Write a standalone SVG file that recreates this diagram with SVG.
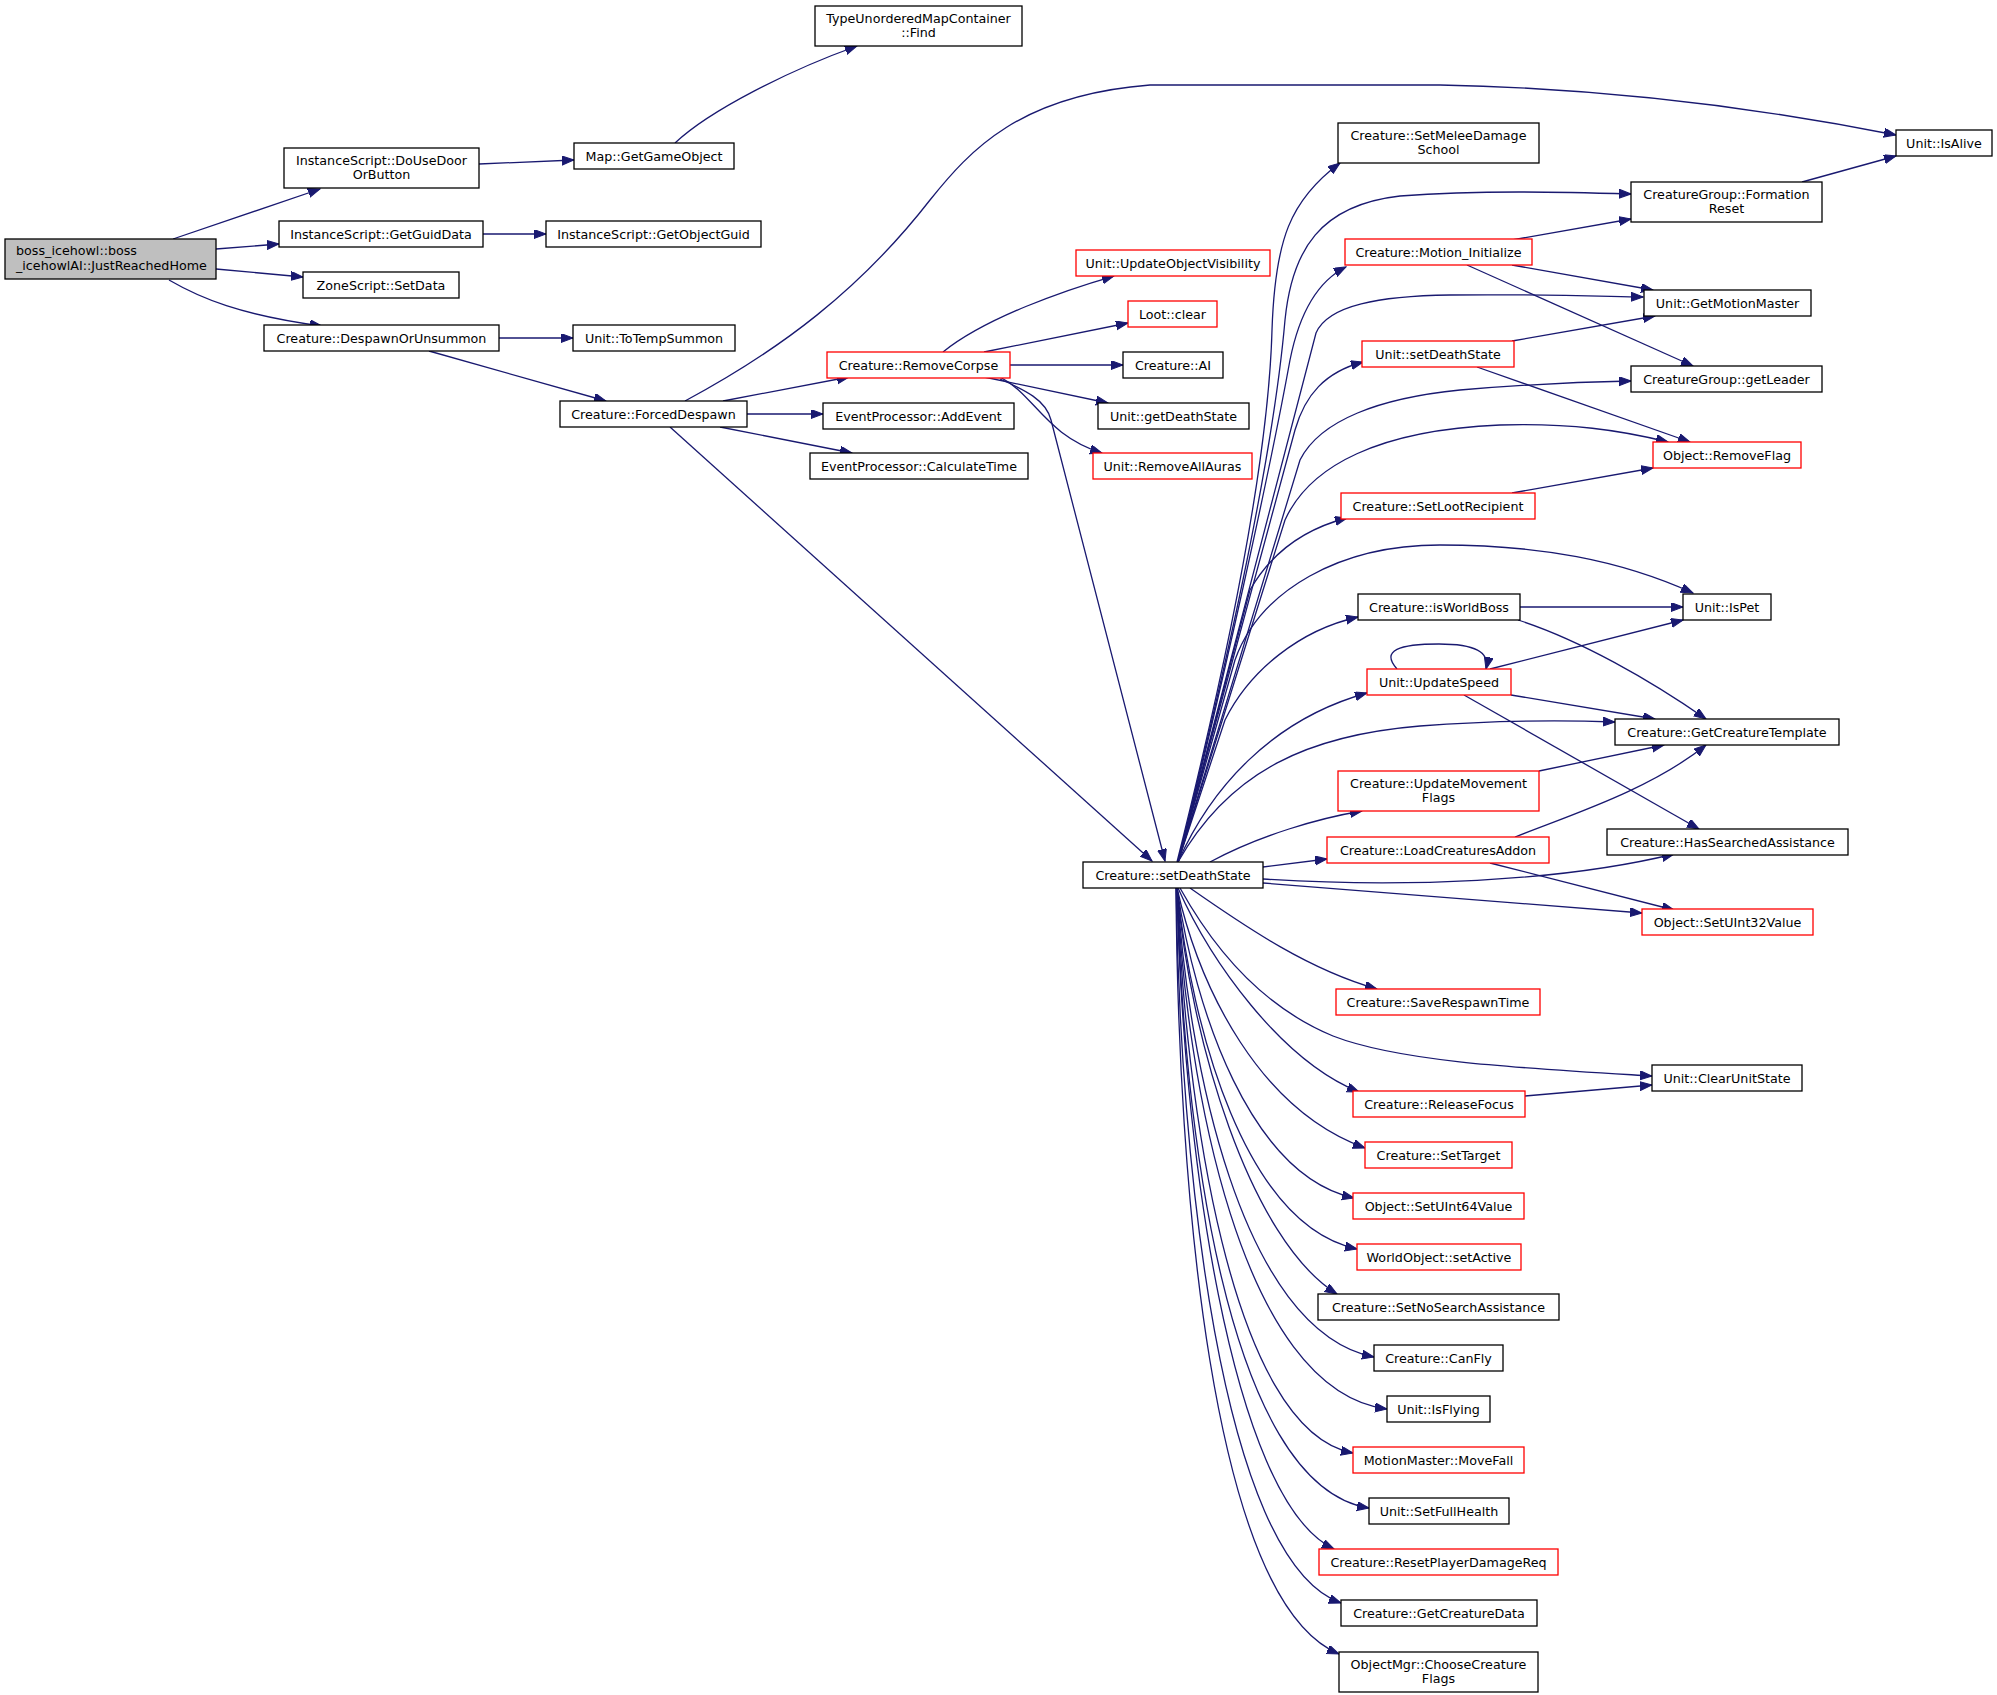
<svg xmlns="http://www.w3.org/2000/svg" width="1997" height="1695" viewBox="0 0 1997 1695">
<style>
.n rect{fill:#ffffff;stroke:#000000;stroke-width:1.3}
.n.r rect{stroke:#ff0000}
.n.g rect{fill:#bfbfbf}
.n text{font-family:"DejaVu Sans","Liberation Sans",sans-serif;font-size:12.7px;fill:#000000;text-anchor:middle}
#edges path{fill:none;stroke:#191970;stroke-width:1.3;marker-end:url(#ah)}
</style>
<defs>
<marker id="ah" markerUnits="userSpaceOnUse" markerWidth="13" markerHeight="10" refX="12" refY="4.5" orient="auto">
<path d="M0,0 L12,4.5 L0,9 z" fill="#191970" stroke="#191970" stroke-width="1"/>
</marker>
</defs>
<rect width="1997" height="1695" fill="#ffffff"/>
<g id="edges">
<path d="M173,239 L320,189"/>
<path d="M216,249 L279,244"/>
<path d="M216,269 L303,277"/>
<path d="M169,280 C200,298 240,315 322,326"/>
<path d="M479,164 L574,160"/>
<path d="M675,143 C710,110 790,70 857,46"/>
<path d="M483,234 L546,234"/>
<path d="M499,338 L573,338"/>
<path d="M429,351 L606,401"/>
<path d="M685,401 C780,350 860,290 930,200 C970,150 1020,95 1150,85 L1440,85 C1600,88 1760,108 1896,135"/>
<path d="M723,401 L849,377"/>
<path d="M747,414 L823,414"/>
<path d="M720,427 L852,453"/>
<path d="M670,427 L1152,861"/>
<path d="M943,352 C985,318 1065,290 1114,276"/>
<path d="M984,352 L1128,323"/>
<path d="M1010,365 L1123,365"/>
<path d="M984,377 L1108,403"/>
<path d="M1000,377 C1035,395 1045,435 1102,453"/>
<path d="M1000,379 C1025,390 1046,400 1051,420 L1165,861"/>
<path d="M1177,862 C1215,710 1268,480 1272,330 C1275,240 1290,200 1340,163"/>
<path d="M1178,862 C1220,690 1272,470 1285,320 C1292,250 1320,205 1400,196 C1480,190 1560,192 1631,194"/>
<path d="M1178,862 C1222,690 1270,470 1290,360 C1300,310 1320,280 1346,267"/>
<path d="M1178,862 L1316,333 C1328,305 1380,296 1450,295 C1530,294 1590,296 1643,297"/>
<path d="M1178,862 L1295,430 C1305,395 1325,372 1363,362"/>
<path d="M1178,862 L1300,460 C1320,420 1380,398 1460,390 C1530,384 1580,382 1631,381"/>
<path d="M1178,862 L1285,520 C1310,465 1380,430 1500,425 C1570,423 1620,430 1668,442"/>
<path d="M1178,862 L1250,590 C1270,555 1300,530 1347,518"/>
<path d="M1178,862 L1235,660 C1260,590 1340,545 1440,545 C1540,545 1620,560 1693,593"/>
<path d="M1178,862 L1225,720 C1250,670 1300,630 1358,617"/>
<path d="M1178,862 C1210,790 1270,720 1367,693"/>
<path d="M1178,862 C1230,770 1310,735 1420,726 C1500,720 1560,720 1615,722"/>
<path d="M1210,862 C1260,835 1320,818 1362,811"/>
<path d="M1263,867 L1327,859"/>
<path d="M1263,879 C1400,888 1560,882 1674,854"/>
<path d="M1263,883 L1642,913"/>
<path d="M1190,888 C1250,930 1310,970 1377,989"/>
<path d="M1180,888 C1220,960 1270,1010 1333,1036 C1400,1062 1520,1068 1652,1076"/>
<path d="M1178,888 C1210,960 1280,1060 1359,1092"/>
<path d="M1177,888 C1200,990 1260,1110 1365,1148"/>
<path d="M1177,888 C1195,1010 1250,1175 1354,1198"/>
<path d="M1177,888 C1192,1030 1245,1225 1357,1249"/>
<path d="M1177,888 C1190,1040 1250,1240 1337,1294"/>
<path d="M1177,888 C1188,1060 1240,1330 1374,1357"/>
<path d="M1177,888 C1186,1080 1240,1390 1387,1409"/>
<path d="M1177,888 C1185,1100 1230,1430 1353,1453"/>
<path d="M1177,888 C1183,1120 1225,1485 1369,1508"/>
<path d="M1177,888 C1182,1140 1230,1500 1334,1549"/>
<path d="M1176,888 C1180,1160 1220,1560 1341,1603"/>
<path d="M1176,888 C1178,1180 1210,1600 1339,1654"/>
<path d="M1802,182 L1896,156"/>
<path d="M1512,240 L1631,219"/>
<path d="M1512,265 L1653,290"/>
<path d="M1467,265 L1693,366"/>
<path d="M1512,341 L1655,316"/>
<path d="M1477,367 L1690,442"/>
<path d="M1512,493 L1653,468"/>
<path d="M1520,607 L1683,607"/>
<path d="M1518,620 C1580,640 1650,680 1706,719"/>
<path d="M1397,669 C1380,650 1400,644 1439,644 C1475,644 1490,652 1486,669"/>
<path d="M1490,669 L1683,620"/>
<path d="M1511,695 L1655,719"/>
<path d="M1464,695 L1699,829"/>
<path d="M1539,771 L1664,745"/>
<path d="M1515,837 C1570,815 1650,790 1706,745"/>
<path d="M1490,863 L1674,910"/>
<path d="M1525,1096 L1652,1085"/>
</g>
<g id="boss" class="n g"><rect x="5" y="239" width="211" height="40"/><text x="16" y="254.5" style="text-anchor:start">boss_icehowl::boss</text><text x="16" y="270" style="text-anchor:start">_icehowlAI::JustReachedHome</text></g>
<g id="find" class="n"><rect x="815" y="6" width="207" height="40"/><text x="918.5" y="22.5">TypeUnorderedMapContainer</text><text x="918.5" y="36.5">::Find</text></g>
<g id="douse" class="n"><rect x="284" y="148" width="195" height="40"/><text x="381.5" y="164.5">InstanceScript::DoUseDoor</text><text x="381.5" y="178.5">OrButton</text></g>
<g id="getgo" class="n"><rect x="574" y="143" width="160" height="26"/><text x="654" y="160.5">Map::GetGameObject</text></g>
<g id="getguid" class="n"><rect x="279" y="221" width="204" height="26"/><text x="381" y="238.5">InstanceScript::GetGuidData</text></g>
<g id="getobjguid" class="n"><rect x="546" y="221" width="215" height="26"/><text x="653.5" y="238.5">InstanceScript::GetObjectGuid</text></g>
<g id="setdata" class="n"><rect x="303" y="272" width="156" height="26"/><text x="381" y="289.5">ZoneScript::SetData</text></g>
<g id="despawn" class="n"><rect x="264" y="325" width="235" height="26"/><text x="381.5" y="342.5">Creature::DespawnOrUnsummon</text></g>
<g id="totemp" class="n"><rect x="573" y="325" width="162" height="26"/><text x="654" y="342.5">Unit::ToTempSummon</text></g>
<g id="forced" class="n"><rect x="560" y="401" width="187" height="26"/><text x="653.5" y="418.5">Creature::ForcedDespawn</text></g>
<g id="removecorpse" class="n r"><rect x="827" y="352" width="183" height="26"/><text x="918.5" y="369.5">Creature::RemoveCorpse</text></g>
<g id="addevent" class="n"><rect x="823" y="403" width="191" height="26"/><text x="918.5" y="420.5">EventProcessor::AddEvent</text></g>
<g id="calctime" class="n"><rect x="810" y="453" width="218" height="26"/><text x="919" y="470.5">EventProcessor::CalculateTime</text></g>
<g id="setmelee" class="n"><rect x="1338" y="123" width="201" height="40"/><text x="1438.5" y="139.5">Creature::SetMeleeDamage</text><text x="1438.5" y="153.5">School</text></g>
<g id="isalive" class="n"><rect x="1896" y="130" width="96" height="26"/><text x="1944" y="147.5">Unit::IsAlive</text></g>
<g id="formreset" class="n"><rect x="1631" y="182" width="191" height="40"/><text x="1726.5" y="198.5">CreatureGroup::Formation</text><text x="1726.5" y="212.5">Reset</text></g>
<g id="updobjvis" class="n r"><rect x="1076" y="250" width="194" height="26"/><text x="1173" y="267.5">Unit::UpdateObjectVisibility</text></g>
<g id="motioninit" class="n r"><rect x="1345" y="239" width="187" height="26"/><text x="1438.5" y="256.5">Creature::Motion_Initialize</text></g>
<g id="lootclear" class="n r"><rect x="1128" y="301" width="89" height="26"/><text x="1172.5" y="318.5">Loot::clear</text></g>
<g id="getmm" class="n"><rect x="1644" y="290" width="167" height="26"/><text x="1727.5" y="307.5">Unit::GetMotionMaster</text></g>
<g id="ai" class="n"><rect x="1123" y="352" width="100" height="26"/><text x="1173" y="369.5">Creature::AI</text></g>
<g id="unitsds" class="n r"><rect x="1362" y="341" width="152" height="26"/><text x="1438" y="358.5">Unit::setDeathState</text></g>
<g id="getleader" class="n"><rect x="1631" y="366" width="191" height="26"/><text x="1726.5" y="383.5">CreatureGroup::getLeader</text></g>
<g id="getdeathstate" class="n"><rect x="1098" y="403" width="151" height="26"/><text x="1173.5" y="420.5">Unit::getDeathState</text></g>
<g id="removeallauras" class="n r"><rect x="1093" y="453" width="159" height="26"/><text x="1172.5" y="470.5">Unit::RemoveAllAuras</text></g>
<g id="removeflag" class="n r"><rect x="1653" y="442" width="148" height="26"/><text x="1727" y="459.5">Object::RemoveFlag</text></g>
<g id="setloot" class="n r"><rect x="1341" y="493" width="194" height="26"/><text x="1438" y="510.5">Creature::SetLootRecipient</text></g>
<g id="ispet" class="n"><rect x="1683" y="594" width="88" height="26"/><text x="1727" y="611.5">Unit::IsPet</text></g>
<g id="isworldboss" class="n"><rect x="1358" y="594" width="162" height="26"/><text x="1439" y="611.5">Creature::isWorldBoss</text></g>
<g id="updatespeed" class="n r"><rect x="1367" y="669" width="144" height="26"/><text x="1439" y="686.5">Unit::UpdateSpeed</text></g>
<g id="getct" class="n"><rect x="1615" y="719" width="224" height="26"/><text x="1727" y="736.5">Creature::GetCreatureTemplate</text></g>
<g id="updmove" class="n r"><rect x="1338" y="771" width="201" height="40"/><text x="1438.5" y="787.5">Creature::UpdateMovement</text><text x="1438.5" y="801.5">Flags</text></g>
<g id="loadaddon" class="n r"><rect x="1327" y="837" width="222" height="26"/><text x="1438" y="854.5">Creature::LoadCreaturesAddon</text></g>
<g id="hassearched" class="n"><rect x="1607" y="829" width="241" height="26"/><text x="1727.5" y="846.5">Creature::HasSearchedAssistance</text></g>
<g id="setds" class="n"><rect x="1083" y="862" width="180" height="26"/><text x="1173" y="879.5">Creature::setDeathState</text></g>
<g id="setuint32" class="n r"><rect x="1642" y="909" width="171" height="26"/><text x="1727.5" y="926.5">Object::SetUInt32Value</text></g>
<g id="saverespawn" class="n r"><rect x="1336" y="989" width="204" height="26"/><text x="1438" y="1006.5">Creature::SaveRespawnTime</text></g>
<g id="clearunit" class="n"><rect x="1652" y="1065" width="150" height="26"/><text x="1727" y="1082.5">Unit::ClearUnitState</text></g>
<g id="releasefocus" class="n r"><rect x="1353" y="1091" width="172" height="26"/><text x="1439" y="1108.5">Creature::ReleaseFocus</text></g>
<g id="settarget" class="n r"><rect x="1365" y="1142" width="147" height="26"/><text x="1438.5" y="1159.5">Creature::SetTarget</text></g>
<g id="setuint64" class="n r"><rect x="1353" y="1193" width="171" height="26"/><text x="1438.5" y="1210.5">Object::SetUInt64Value</text></g>
<g id="setactive" class="n r"><rect x="1357" y="1244" width="164" height="26"/><text x="1439" y="1261.5">WorldObject::setActive</text></g>
<g id="setnosearch" class="n"><rect x="1318" y="1294" width="241" height="26"/><text x="1438.5" y="1311.5">Creature::SetNoSearchAssistance</text></g>
<g id="canfly" class="n"><rect x="1374" y="1345" width="129" height="26"/><text x="1438.5" y="1362.5">Creature::CanFly</text></g>
<g id="isflying" class="n"><rect x="1387" y="1396" width="103" height="26"/><text x="1438.5" y="1413.5">Unit::IsFlying</text></g>
<g id="movefall" class="n r"><rect x="1353" y="1447" width="171" height="26"/><text x="1438.5" y="1464.5">MotionMaster::MoveFall</text></g>
<g id="setfullhealth" class="n"><rect x="1369" y="1498" width="140" height="26"/><text x="1439" y="1515.5">Unit::SetFullHealth</text></g>
<g id="resetplayer" class="n r"><rect x="1319" y="1549" width="239" height="26"/><text x="1438.5" y="1566.5">Creature::ResetPlayerDamageReq</text></g>
<g id="getcd" class="n"><rect x="1341" y="1600" width="196" height="26"/><text x="1439" y="1617.5">Creature::GetCreatureData</text></g>
<g id="choose" class="n"><rect x="1339" y="1652" width="199" height="40"/><text x="1438.5" y="1668.5">ObjectMgr::ChooseCreature</text><text x="1438.5" y="1682.5">Flags</text></g>
</svg>
